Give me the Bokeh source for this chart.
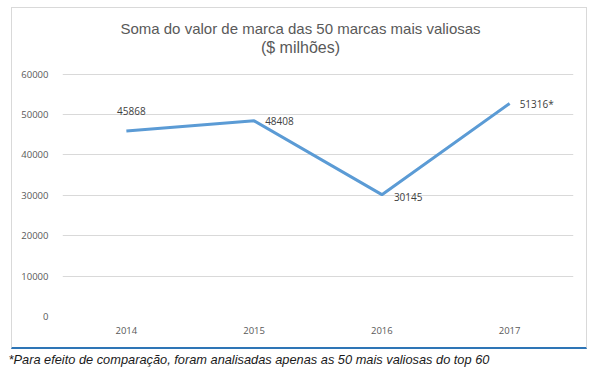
from bokeh.plotting import figure
from bokeh.layouts import column
from bokeh.models import Range1d, FixedTicker, Label, ColumnDataSource
from bokeh.core.properties import value
from bokeh.embed import file_html
from bokeh.resources import INLINE

years = ["2014", "2015", "2016", "2017"]
# plotted positions (2017 point sits near 52700)
values = [45868, 48408, 30145, 52700]
point_labels = ["45868", "48408", "30145", "51316*"]
y_ticks = [0, 10000, 20000, 30000, 40000, 50000, 60000]

title_line1 = "Soma do valor de marca das 50 marcas mais valiosas"
title_line2 = "($ milhões)"
footnote = "*Para efeito de comparação, foram analisadas apenas as 50 mais valiosas do top 60"

# layout: the plot frame reaches up to hold the title; axis scale 242.5 px per 60000
FRAME_H = 342 - 5 - 34
Y_END = 60000 * FRAME_H / 242.5

p = figure(width=576, height=342, x_range=years, y_range=Range1d(0, Y_END),
           output_backend="svg", toolbar_location=None, title=None,
           min_border_left=50, min_border_right=15, min_border_top=5, min_border_bottom=34,
           margin=(7, 0, 0, 11),
           styles={"border": "1px solid #d9d9d9", "border-bottom": "2px solid #2E75B6",
                   "box-sizing": "border-box"})
p.outline_line_color = None
p.background_fill_color = "white"
p.border_fill_color = "white"

p.xgrid.grid_line_color = None
p.ygrid.grid_line_color = "#d9d9d9"
p.ygrid.grid_line_width = 1

p.yaxis.ticker = FixedTicker(ticks=y_ticks)
p.yaxis.minor_tick_line_color = None
for ax in (p.xaxis[0], p.yaxis[0]):
    ax.axis_line_color = None
    ax.major_tick_line_color = None
    ax.major_label_text_font = "Open Sans"
    ax.major_label_text_font_size = "9.5px"
    ax.major_label_text_color = "#595959"
p.yaxis.major_label_standoff = 8
p.xaxis.major_label_standoff = 4

p.add_layout(Label(x=238, y=288, x_units="screen", y_units="screen", text=title_line1,
                   text_align="center", text_baseline="middle",
                   text_font="Liberation Sans", text_font_size="15px", text_color="#595959"))
p.add_layout(Label(x=238, y=269, x_units="screen", y_units="screen", text=title_line2,
                   text_align="center", text_baseline="middle",
                   text_font="Liberation Sans", text_font_size="16px", text_color="#595959"))

src = ColumnDataSource(dict(x=years, y=values, label=point_labels,
                            xo=[5, 11, 12, 10], yo=[-20, 0, 2, 0],
                            align=["center", "left", "left", "left"]))
p.line(x="x", y="y", source=src, line_color="#5B9BD5", line_width=3)
p.text(x="x", y="y", text="label", source=src, x_offset="xo", y_offset="yo",
       text_align="align", text_baseline="middle",
       text_font=value("Open Sans"), text_font_size="10px", text_color="#404040")

# footnote strip
f = figure(width=598, height=28, x_range=Range1d(0, 598), y_range=Range1d(0, 28),
           output_backend="svg", toolbar_location=None, min_border=0, min_border_top=9,
           x_axis_location=None, y_axis_location=None)
f.grid.visible = False
f.outline_line_color = None
f.title.text = footnote
f.title.align = "left"
f.title.offset = -42
f.title.standoff = 0
f.title.text_font = "Liberation Sans"
f.title.text_font_style = "italic"
f.title.text_font_size = "12.8px"
f.title.text_color = "#1a1a1a"

layout = column(p, f, spacing=0)
open("out.html", "w").write(file_html(layout, INLINE))
